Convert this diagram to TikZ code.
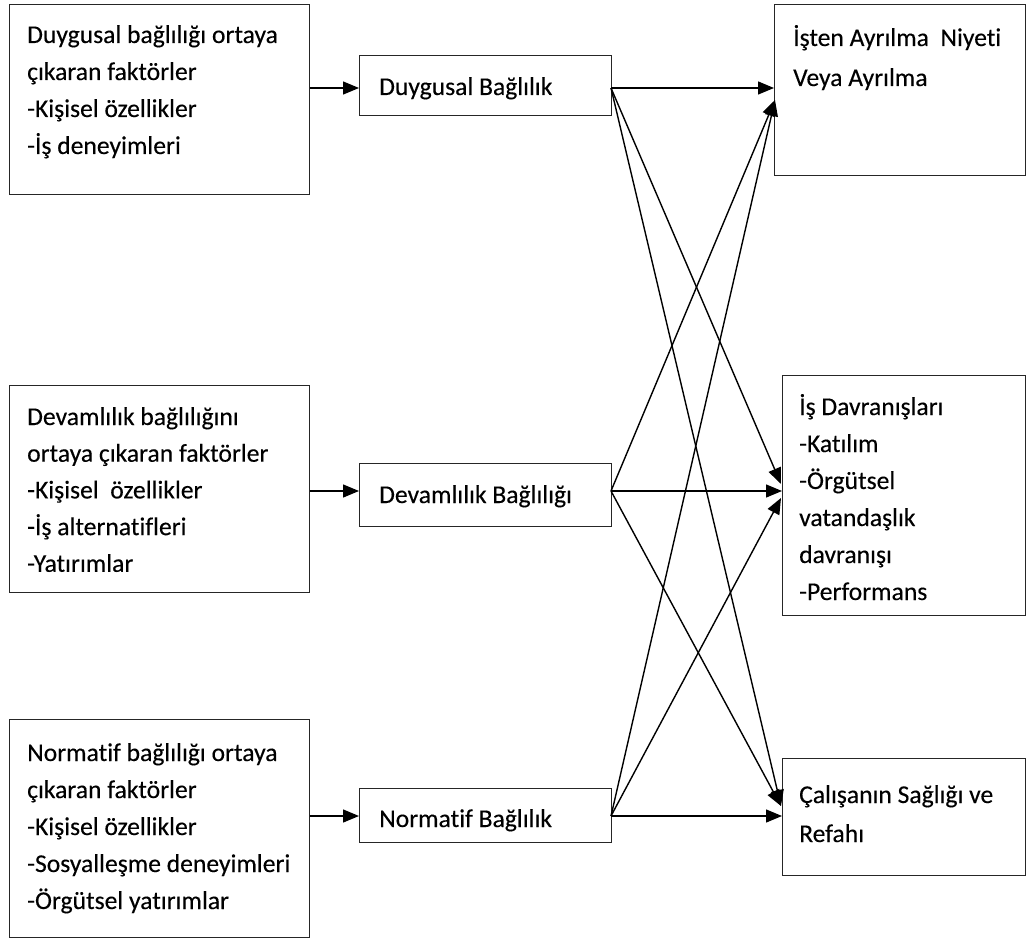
\documentclass[tikz,border=0pt]{standalone}
\usepackage{fontspec}
\setmainfont{Carlito}[Ligatures=NoCommon, FakeBold=0.25]
\usetikzlibrary{arrows.meta}
\tikzset{
  box/.style={draw=black!85, line width=1.2pt, anchor=north west, inner sep=0pt},
  txt/.style={anchor=base west, inner sep=0pt, font=\fontsize{25.6}{37}\selectfont},
  conn/.style={line width=1.4pt, -{Triangle[length=16pt,width=13pt]}}
}
\newcommand{\ml}[2]{{\fontsize{25.6}{#1}\selectfont\begin{tabular}[t]{@{}l@{}}#2\end{tabular}}}
\begin{document}
\begin{tikzpicture}[x=1pt,y=-1pt]
\useasboundingbox (0,0) rectangle (1026,939);
% left boxes
\node[box, minimum width=300pt, minimum height=190pt] (l1) at (9,4) {};
\node[box, minimum width=300pt, minimum height=207pt] (l2) at (9,385) {};
\node[box, minimum width=300pt, minimum height=218pt] (l3) at (9,719) {};
% middle boxes
\node[box, minimum width=252pt, minimum height=60pt] (m1) at (359,55) {};
\node[box, minimum width=252pt, minimum height=63pt] (m2) at (359,463) {};
\node[box, minimum width=252pt, minimum height=54pt] (m3) at (359,788) {};
% right boxes
\node[box, minimum width=251pt, minimum height=171pt] (r1) at (774,4) {};
\node[box, minimum width=243pt, minimum height=240pt] (r2) at (782,375) {};
\node[box, minimum width=243pt, minimum height=117pt] (r3) at (782,758) {};
% texts
\node[txt] (tl1) at (27,43) {\ml{37}{Duygusal bağlılığı ortaya\\çıkaran faktörler\\-Kişisel özellikler\\-İş deneyimleri}};
\node[txt] (tl2) at (27,425) {\ml{36.7}{Devamlılık bağlılığını\\ortaya çıkaran faktörler\\-Kişisel\ \ özellikler\\-İş alternatifleri\\-Yatırımlar}};
\node[txt] (tl3) at (27,761) {\ml{37}{Normatif bağlılığı ortaya\\çıkaran faktörler\\-Kişisel özellikler\\-Sosyalleşme deneyimleri\\-Örgütsel yatırımlar}};
\node[txt] (tm1) at (379,95) {Duygusal Bağlılık};
\node[txt] (tm2) at (379,503) {Devamlılık Bağlılığı};
\node[txt] (tm3) at (379,827) {Normatif Bağlılık};
\node[txt] (tr1) at (793,46) {\ml{40}{İşten Ayrılma\ \ Niyeti\\Veya Ayrılma}};
\node[txt] (tr2) at (799,415) {\ml{37}{İş Davranışları\\-Katılım\\-Örgütsel\\vatandaşlık\\davranışı\\-Performans}};
\node[txt] (tr3) at (799,803) {\ml{39}{Çalışanın Sağlığı ve\\Refahı}};
% connection points
\coordinate (m1w) at (359,88);  \coordinate (m1e) at (611,88);
\coordinate (m2w) at (359,491); \coordinate (m2e) at (611,491);
\coordinate (m3w) at (359,816); \coordinate (m3e) at (611,816);
\coordinate (r1a) at (774,88);  \coordinate (r1b) at (775,100);
\coordinate (r2a) at (782,491); \coordinate (r2b) at (781,484); \coordinate (r2c) at (781,498);
\coordinate (r3a) at (782,816); \coordinate (r3b) at (781,806);
% left to middle
\draw[conn] (l1.east |- m1w) -- (m1w);
\draw[conn] (l2.east |- m2w) -- (m2w);
\draw[conn] (l3.east |- m3w) -- (m3w);
% middle to right
\draw[conn] (m1e) -- (r1a);
\draw[conn] (m2e) -- (r1b);
\draw[conn] (m3e) -- (r1b);
\draw[conn] (m2e) -- (r2a);
\draw[conn] (m1e) -- (r2b);
\draw[conn] (m3e) -- (r2c);
\draw[conn] (m3e) -- (r3a);
\draw[conn] (m1e) -- (r3b);
\draw[conn] (m2e) -- (r3b);
\end{tikzpicture}
\end{document}
